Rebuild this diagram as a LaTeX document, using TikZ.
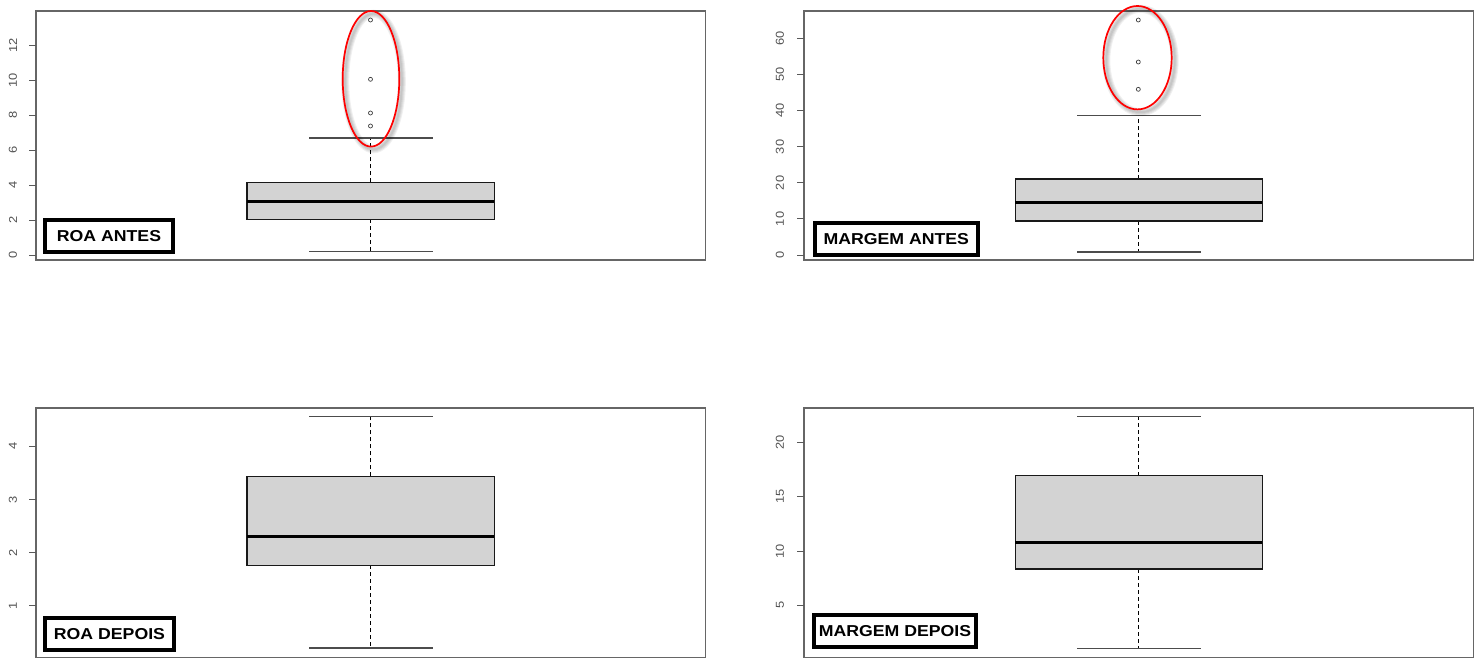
\documentclass[tikz,border=0pt]{standalone}
\usepackage{fontspec}
\setmainfont{Liberation Sans}
\definecolor{boxgray}{HTML}{D3D3D3}
\begin{document}
\begin{tikzpicture}[x=1pt,y=-1pt,
  frame/.style={draw=black!60, line width=1.1},
  boxfill/.style={fill=boxgray, draw=black!90, line width=1.2},
  median/.style={draw=black, line width=3},
  whisk/.style={draw=black, dash pattern=on 4pt off 3pt, line width=1},
  capline/.style={draw=black!70, line width=1.3},
  tickl/.style={draw=black!65, line width=1},
  ticklab/.style={rotate=90, font=\fontsize{11.5}{13}\selectfont, text=black!68, inner sep=0pt},
  outl/.style={draw=black!75, line width=0.7},
  lbl/.style={draw=black, line width=4, fill=white, inner sep=0pt,
    font=\bfseries\fontsize{15.8}{18}\selectfont},
  hilite/.style={draw=red, line width=1.7},
  shade/.style={draw=black, opacity=0.06}
]
\useasboundingbox (0,0) rectangle (1484,670);
\fill[white] (0,0) rectangle (1484,670);

% ---------- Panel 1: ROA ANTES ----------
\draw[frame] (36,11) rectangle (705.7,260);
\foreach \v in {0,2,...,12} {
  \draw[tickl] (29,{255-17.5*\v}) -- (36,{255-17.5*\v});
  \node[ticklab] at (13,{255-17.5*\v}) {\scalebox{1.12}[1]{\v}};
}
\draw[whisk] (370.5,182.3) -- (370.5,138);
\draw[whisk] (370.5,219.3) -- (370.5,251.7);
\draw[capline] (309,138) -- (433,138);
\draw[capline] (309,251.7) -- (433,251.7);
\draw[boxfill] (247,182.3) rectangle (494.3,219.3);
\draw[median] (247,201) -- (494.3,201);
\foreach \yy in {20,79.3,113,126} \draw[outl] (370.5,\yy) circle[radius=2];
\foreach \w in {2,4,6,8} \draw[shade, line width=\w] (373.5,81.5) ellipse [x radius=28.3, y radius=67.8];
\draw[hilite] (371,78.8) ellipse [x radius=28.3, y radius=67.8];
\node[lbl, minimum width=128pt, minimum height=32pt] (roaantes) at (109,236) {\scalebox{1.12}[1]{ROA ANTES}};

% ---------- Panel 2: MARGEM ANTES ----------
\draw[frame] (804,11) rectangle (1473.3,260);
\foreach \v in {0,10,...,60} {
  \draw[tickl] (797,{255-3.605*\v}) -- (804,{255-3.605*\v});
  \node[ticklab] at (780,{255-3.605*\v}) {\scalebox{1.12}[1]{\v}};
}
\draw[whisk] (1138.3,179) -- (1138.3,115.3);
\draw[whisk] (1138.3,221) -- (1138.3,252);
\draw[capline] (1077,115.3) -- (1201,115.3);
\draw[capline] (1077,252) -- (1201,252);
\draw[boxfill] (1015.3,179) rectangle (1262.3,221);
\draw[median] (1015.3,202.3) -- (1262.3,202.3);
\foreach \yy in {20,62,89.3} \draw[outl] (1138.3,\yy) circle[radius=2];
\foreach \w in {2,4,6,8} \draw[shade, line width=\w] (1140.5,60.5) ellipse [x radius=34.2, y radius=51.7];
\draw[hilite] (1137.5,57.7) ellipse [x radius=34.2, y radius=51.7];
\node[lbl, minimum width=163.3pt, minimum height=32.6pt] (margemantes) at (896.3,239) {\scalebox{1.12}[1]{MARGEM ANTES}};

% ---------- Panel 3: ROA DEPOIS ----------
\draw[frame] (36,408) rectangle (705.7,657.3);
\foreach \v in {1,2,3,4} {
  \draw[tickl] (29,{658.83-53.13*\v}) -- (36,{658.83-53.13*\v});
  \node[ticklab] at (13,{658.83-53.13*\v}) {\scalebox{1.12}[1]{\v}};
}
\draw[whisk] (370.5,476.3) -- (370.5,416.7);
\draw[whisk] (370.5,565.3) -- (370.5,648);
\draw[capline] (309,416.7) -- (433,416.7);
\draw[capline] (309,648) -- (433,648);
\draw[boxfill] (247,476.3) rectangle (494.3,565.3);
\draw[median] (247,536) -- (494.3,536);
\node[lbl, minimum width=129pt, minimum height=31.7pt] (roadepois) at (109.5,633.8) {\scalebox{1.12}[1]{ROA DEPOIS}};

% ---------- Panel 4: MARGEM DEPOIS ----------
\draw[frame] (804,408) rectangle (1473.3,657.3);
\foreach \v in {5,10,15,20} {
  \draw[tickl] (797,{659.5-10.85*\v}) -- (804,{659.5-10.85*\v});
  \node[ticklab] at (780,{659.5-10.85*\v}) {\scalebox{1.12}[1]{\v}};
}
\draw[whisk] (1138.3,475.7) -- (1138.3,416.3);
\draw[whisk] (1138.3,569) -- (1138.3,648.3);
\draw[capline] (1077,416.3) -- (1201,416.3);
\draw[capline] (1077,648.3) -- (1201,648.3);
\draw[boxfill] (1015.3,475.7) rectangle (1262.3,569);
\draw[median] (1015.3,542.7) -- (1262.3,542.7);
\node[lbl, minimum width=162.6pt, minimum height=32.3pt] (margemdepois) at (895,630.8) {\scalebox{1.12}[1]{MARGEM DEPOIS}};
\end{tikzpicture}
\end{document}
